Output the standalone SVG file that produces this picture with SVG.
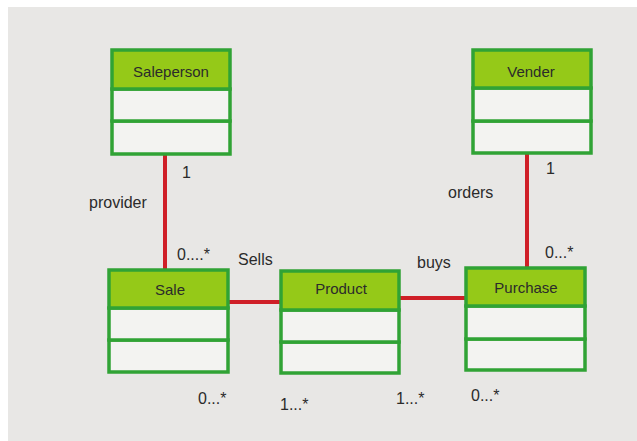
<svg xmlns="http://www.w3.org/2000/svg" width="637" height="441" viewBox="0 0 637 441">
<style>
.hdr{fill:#95c918;stroke:#30a335;stroke-width:3.5}
.cmp{fill:#f3f3f1;stroke:#30a335;stroke-width:3.5}
.name{font-family:"Liberation Sans",Arial,sans-serif;font-size:15px;fill:#2b2b2b;text-anchor:middle}
.lbl{font-family:"Liberation Sans",Arial,sans-serif;font-size:16px;fill:#2b2b2b}
.conn{stroke:#cf1f27;stroke-width:4;fill:none}
</style>
<rect x="0" y="0" width="637" height="441" fill="#ffffff"/>
<rect x="8" y="7" width="629" height="434" fill="#e8e7e5"/>
<g id="connectors">
<line class="conn" x1="165" y1="154" x2="165" y2="270"/>
<line class="conn" x1="527" y1="153" x2="527" y2="268"/>
<line class="conn" x1="228" y1="302" x2="281" y2="302"/>
<line class="conn" x1="399" y1="298" x2="466" y2="298"/>
</g>
<g id="saleperson">
<rect class="cmp" x="112" y="121" width="118" height="33"/>
<rect class="cmp" x="112" y="89" width="118" height="32"/>
<rect class="hdr" x="112" y="50" width="118" height="39"/>
<text class="name" x="171" y="77">Saleperson</text>
</g>
<g id="vender">
<rect class="cmp" x="473" y="121" width="118" height="32"/>
<rect class="cmp" x="473" y="88" width="118" height="33"/>
<rect class="hdr" x="473" y="50" width="118" height="38"/>
<text class="name" x="531" y="77">Vender</text>
</g>
<g id="sale">
<rect class="cmp" x="109" y="340" width="119" height="32"/>
<rect class="cmp" x="109" y="308" width="119" height="32"/>
<rect class="hdr" x="109" y="270" width="119" height="38"/>
<text class="name" x="170" y="295">Sale</text>
</g>
<g id="product">
<rect class="cmp" x="281" y="342" width="118" height="31"/>
<rect class="cmp" x="281" y="310" width="118" height="32"/>
<rect class="hdr" x="281" y="271" width="118" height="39"/>
<text class="name" x="341" y="294">Product</text>
</g>
<g id="purchase">
<rect class="cmp" x="466" y="339" width="119" height="31"/>
<rect class="cmp" x="466" y="306" width="119" height="33"/>
<rect class="hdr" x="466" y="268" width="119" height="38"/>
<text class="name" x="526" y="293">Purchase</text>
</g>
<g id="labels">
<text class="lbl" x="182" y="178">1</text>
<text class="lbl" x="89" y="208">provider</text>
<text class="lbl" x="177" y="260">0....*</text>
<text class="lbl" x="238" y="265">Sells</text>
<text class="lbl" x="417" y="268">buys</text>
<text class="lbl" x="448" y="198">orders</text>
<text class="lbl" x="546" y="174">1</text>
<text class="lbl" x="545" y="258">0...*</text>
<text class="lbl" x="198" y="404">0...*</text>
<text class="lbl" x="280" y="410">1...*</text>
<text class="lbl" x="396" y="404">1...*</text>
<text class="lbl" x="471" y="401">0...*</text>
</g>
</svg>
